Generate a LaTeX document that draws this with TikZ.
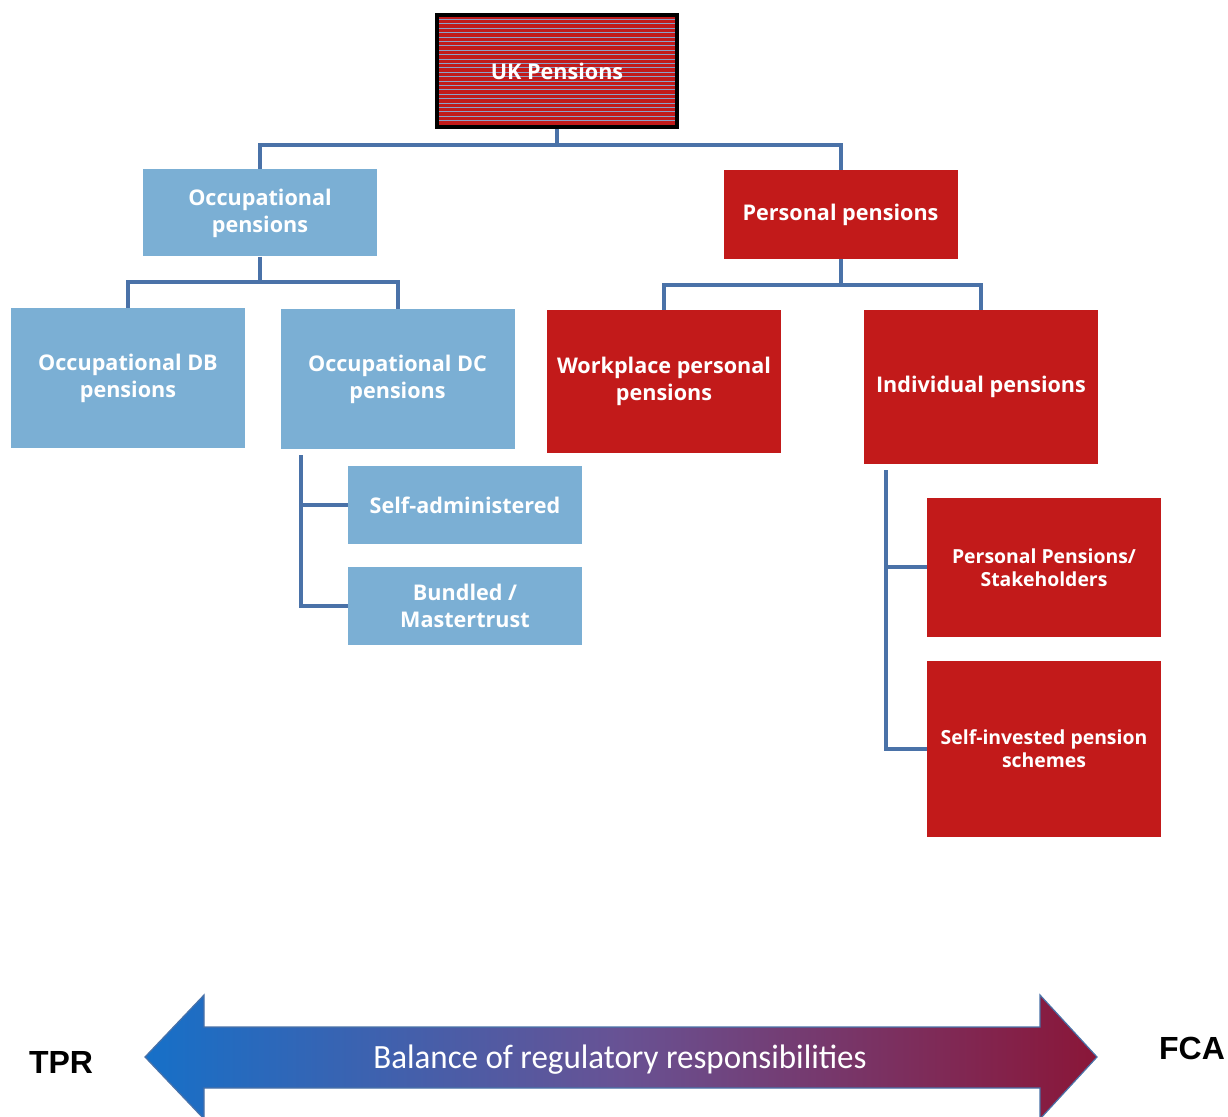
\documentclass[tikz,border=0pt]{standalone}
\usepackage{fontspec}
\usepackage{graphicx}
\setmainfont{Open Sans}
\newfontfamily\arrowfont{Carlito}
\newfontfamily\regfont{Liberation Sans}
\usetikzlibrary{calc}
\definecolor{occblue}{RGB}{123,175,212}
\definecolor{perred}{RGB}{194,26,26}
\definecolor{linkblue}{RGB}{74,114,168}
\definecolor{stripegrey}{RGB}{140,160,200}
\definecolor{arrowblue}{RGB}{22,112,200}
\definecolor{arrowpurple}{RGB}{104,82,148}
\definecolor{arrowred}{RGB}{138,22,56}

\begin{document}
\begin{tikzpicture}[x=0.5pt,y=-0.5pt,font=\bfseries\fontsize{10.8}{13.5}\selectfont,
  every node/.style={inner sep=0pt,align=center,text=white},
  box/.style={minimum width=117pt},
  occ/.style={box,fill=occblue},
  per/.style={box,fill=perred},
  small/.style={font=\bfseries\fontsize{9.7}{11.5}\selectfont},
  link/.style={linkblue,line width=2pt},
  stripe/.style={stripegrey,line width=0.4pt}]
  \useasboundingbox (0,0) rectangle (1228,1117);
  % top of the tree
  \node[fill=perred,draw=black,line width=2pt,minimum width=120pt,minimum height=56pt,
    path picture={\foreach \k in {1,...,25}{\draw[stripe] ($(path picture bounding box.north west)+(0,\k*4.4)$) -- ($(path picture bounding box.north east)+(0,\k*4.4)$);}}]
    (uk) at (557,71) {UK Pensions};
  \node[occ,minimum height=43.5pt] (occ) at (260,213) {Occupational\\pensions};
  \node[per,minimum height=44.5pt] (per) at (840.5,214.5) {Personal pensions};
  \node[occ,minimum height=70pt] (db) at (128,378) {Occupational DB\\pensions};
  \node[occ,minimum height=70pt] (dc) at (397.5,379) {Occupational DC\\pensions};
  \node[per,minimum height=71.5pt] (wpp) at (664,381.5) {Workplace personal\\pensions};
  \node[per,minimum height=77pt] (ind) at (981,387) {Individual pensions};
  \node[occ,minimum height=39pt] (sadm) at (465,505) {Self-administered};
  \node[occ,minimum height=39pt] (mtr) at (465,606) {Bundled /\\Mastertrust};
  \node[per,small,minimum height=69.5pt] (ppst) at (1044,567.5) {Personal Pensions/\\Stakeholders};
  \node[per,small,minimum height=88pt] (sipp) at (1044,749) {Self-invested pension\\schemes};
  % connectors
  \draw[link] (uk.south) -- ++(0,16) -| (occ.north);
  \draw[link] (uk.south) -- ++(0,16) -| (per.north);
  \draw[link] (occ.south) -- ++(0,25) -| (db.north);
  \draw[link] (occ.south) -- ++(0,25) -| (dc.north);
  \draw[link] (per.south) -- ++(0,26) -| (wpp.north);
  \draw[link] (per.south) -- ++(0,26) -| (ind.north);
  \coordinate (dcfoot) at ($(dc.south west)+(21,6)$);
  \draw[link] (dcfoot) |- (sadm.west);
  \draw[link] (dcfoot) |- (mtr.west);
  \coordinate (indfoot) at ($(ind.south west)+(22,6)$);
  \draw[link] (indfoot) |- (ppst.west);
  \draw[link] (indfoot) |- (sipp.west);
  % regulator arrow
  \shade[left color=arrowblue,right color=arrowred,middle color=arrowpurple,draw=linkblue,line width=0.6pt]
    (145,1057) -- (204,995) -- (204,1027) -- (1040,1027) -- (1040,995) -- (1097,1057)
    -- (1040,1119) -- (1040,1088) -- (204,1088) -- (204,1119) -- cycle;
  \node[font=\arrowfont\mdseries\fontsize{17}{20}\selectfont] (bal) at (620,1060)
    {\scalebox{0.97}[1]{Balance of regulatory responsibilities}};
  \node[font=\regfont\bfseries\fontsize{16}{19}\selectfont,text=black] (tpr) at (61,1062) {TPR};
  \node[font=\regfont\bfseries\fontsize{16}{19}\selectfont,text=black] (fca) at (1192,1048) {FCA};
\end{tikzpicture}
\end{document}
